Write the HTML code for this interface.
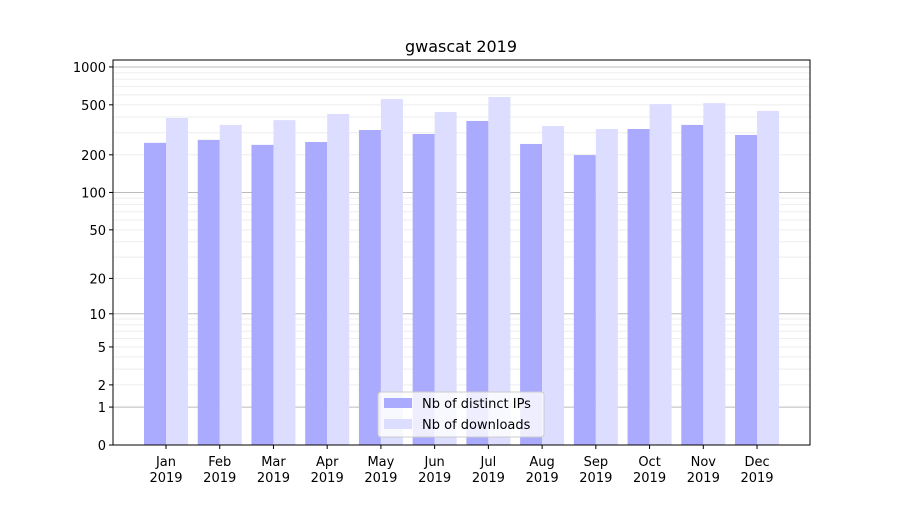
<!DOCTYPE html>
<html><head><meta charset="utf-8"><style>
body{margin:0;background:#fff;font-family:"Liberation Sans","DejaVu Sans",sans-serif}
svg text{font-family:"DejaVu Sans","Liberation Sans",sans-serif;font-size:13px;fill:#000}
</style></head><body>
<svg id="c" width="900" height="500" xmlns="http://www.w3.org/2000/svg">
<rect width="900" height="500" fill="#fff"/>
<text x="461" y="52" text-anchor="middle" style="font-size:16px">gwascat 2019</text>
<g id="grid"></g><g id="bars"></g><g id="axes"></g>
</svg>
<script>
const months=["Jan","Feb","Mar","Apr","May","Jun","Jul","Aug","Sep","Oct","Nov","Dec"];
const ips=[249,263,240,253,315,293,372,244,199,321,346,288];
const downloads=[393,346,378,423,556,438,577,339,321,507,516,447];
const tickVals=[0,1,2,5,10,20,50,100,200,500,1000];
const NS="http://www.w3.org/2000/svg";
const L=113,R=810,T=60,B=445;
function y(v){return B-126*Math.log10(1+v);}
function x(i){return 166+i*53.73;}
function mk(t,a,p){const e=document.createElementNS(NS,t);for(const k in a)e.setAttribute(k,a[k]);(p||document.getElementById('c')).appendChild(e);return e;}
const g=document.getElementById('grid'),b=document.getElementById('bars'),ax=document.getElementById('axes');
for(let d=1;d<=1000;d*=10){for(let m=1;m<10;m++){const v=d*m;if(v>1000)break;const line=mk('line',{x1:L,x2:R,y1:y(v),y2:y(v),stroke:m==1?'#bbb':'#eee','stroke-width':1},g);}}
months.forEach((m,i)=>{
 const r1=mk('rect',{x:x(i)-22,y:y(ips[i]),width:22,height:B-y(ips[i]),fill:'#aaaaff'},b);
 
 
 const r2=mk('rect',{x:x(i),y:y(downloads[i]),width:22,height:B-y(downloads[i]),fill:'#ddddff'},b);
 
 
 mk('line',{x1:x(i),x2:x(i),y1:B,y2:B+4,stroke:'#000'},ax);
 const t=mk('text',{x:x(i),y:B+21,'text-anchor':'middle'},ax);t.textContent=m;
 
 const t2=mk('text',{x:x(i),y:B+37,'text-anchor':'middle'},ax);t2.textContent='2019';
 
});
tickVals.forEach(v=>{
 mk('line',{x1:L-4,x2:L,y1:y(v),y2:y(v),stroke:'#000'},ax);
 const t=mk('text',{x:L-7,y:y(v)+5,'text-anchor':'end'},ax);t.textContent=v;
 
});
const fr=mk('rect',{x:L,y:T,width:R-L,height:B-T,fill:'none',stroke:'#000'},ax);

const lg=mk('g',{},ax);
mk('rect',{x:378,y:392,width:166,height:45,rx:3,fill:'#fff','fill-opacity':0.8,stroke:'#ccc'},lg);
mk('rect',{x:384,y:398,width:28,height:10,fill:'#aaaaff'},lg);
mk('rect',{x:384,y:419,width:28,height:10,fill:'#ddddff'},lg);
const l1=mk('text',{x:422,y:408},lg);l1.textContent='Nb of distinct IPs';

const l2=mk('text',{x:422,y:429},lg);l2.textContent='Nb of downloads';

</script>
</body></html>
